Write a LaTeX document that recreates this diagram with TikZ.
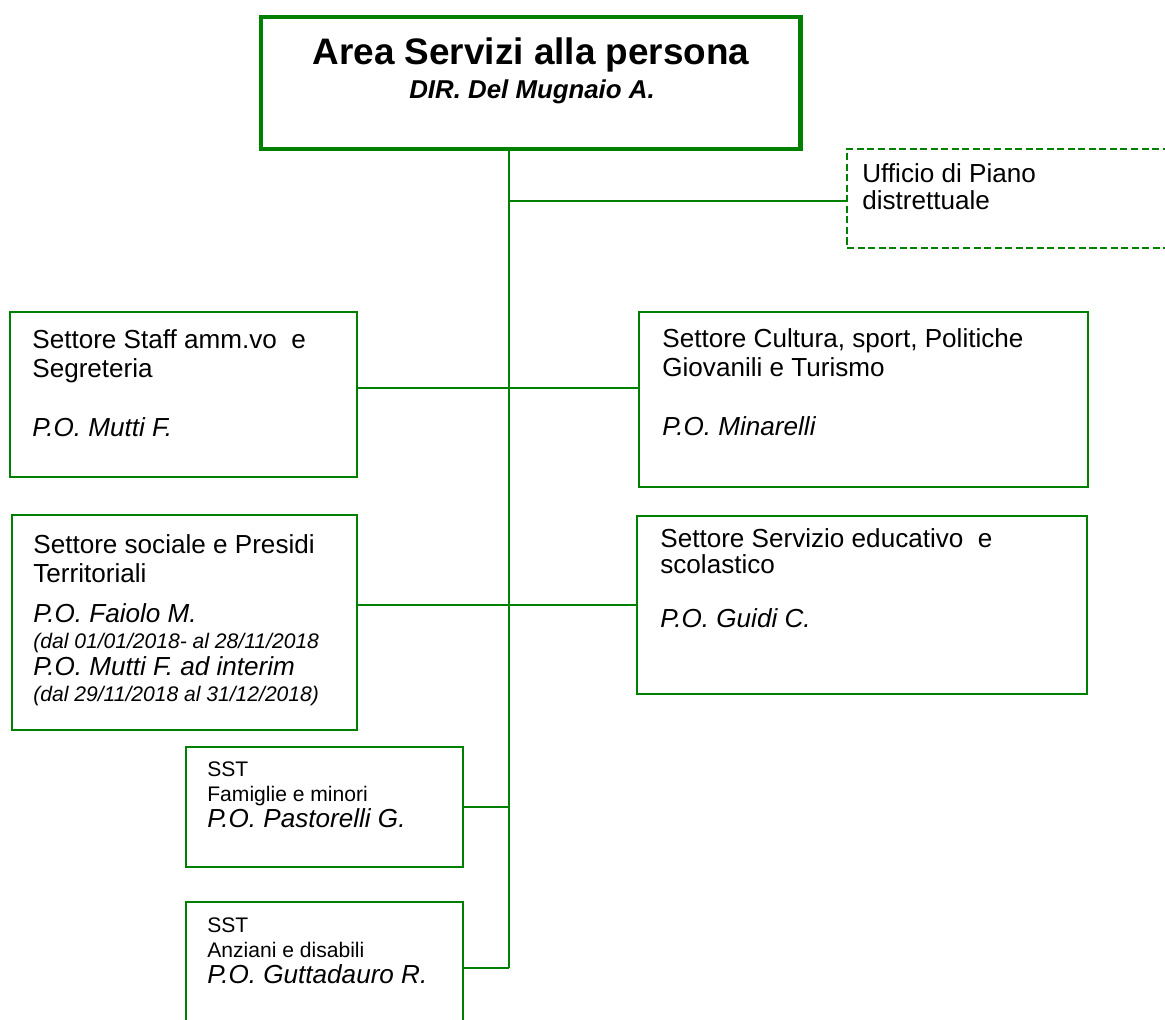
\documentclass[tikz,border=0pt]{standalone}
\usepackage{fontspec}
\setmainfont{Liberation Sans}
\definecolor{orggreen}{RGB}{0,128,0}
\tikzset{
	unit/.style={draw=orggreen,line width=1.1pt,inner sep=0pt,outer sep=0pt,anchor=north west},
	link/.style={draw=orggreen,line width=1.1pt},
	desc/.style={anchor=north west,align=left,inner sep=0pt,font=\fontsize{14.85}{16.7}\selectfont},
	small/.style={font=\fontsize{12}{14.5}\selectfont}
}
\begin{document}
\begin{tikzpicture}[x=0.02cm,y=-0.02cm]
	\useasboundingbox (0,0) rectangle (1165,1019);
	% boxes
	\node[unit,line width=2.8pt,minimum width=10.8cm,minimum height=2.64cm] (boss) at (261,17) {};
	\node[unit,dash pattern=on 4pt off 2pt,minimum width=6.56cm,minimum height=1.98cm] (piano) at (847,149) {};
	\node[unit,minimum width=6.94cm,minimum height=3.3cm] (staff) at (10,312) {};
	\node[unit,minimum width=8.98cm,minimum height=3.5cm] (cult) at (639,312) {};
	\node[unit,minimum width=6.9cm,minimum height=4.3cm] (soc) at (12,515) {};
	\node[unit,minimum width=9cm,minimum height=3.56cm] (educ) at (637,516) {};
	\node[unit,minimum width=5.54cm,minimum height=2.4cm] (sst1) at (186,747) {};
	\node[unit,minimum width=5.54cm,minimum height=2.4cm] (sst2) at (186,902) {};
	% texts
	\node[anchor=base,inner sep=0pt,font=\fontsize{21}{24}\selectfont\bfseries] (boss-t) at (531,64) {Area Servizi alla persona};
	\node[anchor=base,inner sep=0pt,font=\fontsize{14.7}{17}\selectfont\bfseries\itshape] (boss-d) at (532,98) {DIR. Del Mugnaio A.};
	\node[desc] (piano-t) at (862,163) {Ufficio di Piano\\[-1.4pt]distrettuale};
	\node[desc] (staff-t) at (32,329) {Settore Staff amm.vo\ \ e\\Segreteria\\[17pt]\textit{P.O. Mutti F.}};
	\node[desc] (cult-t) at (662,328) {Settore Cultura, sport, Politiche\\Giovanili e Turismo\\[17pt]\textit{P.O. Minarelli}};
	\node[desc] (soc-t) at (33,534) {Settore sociale e Presidi\\Territoriali\\[6pt]\textit{P.O. Faiolo M.}\\[-2pt]
		{\fontsize{12}{14.5}\selectfont\itshape (dal 01/01/2018- al 28/11/2018}\\[-1pt]\textit{P.O. Mutti F. ad interim}\\[-2pt]
		{\fontsize{12}{14.5}\selectfont\itshape (dal 29/11/2018 al 31/12/2018)}};
	\node[desc] (educ-t) at (660,528) {Settore Servizio educativo\ \ e\\[-2pt]scolastico\\[14.5pt]\textit{P.O. Guidi C.}};
	\node[desc,small] (sst1-t) at (207,761) {SST\\Famiglie e minori\\{\fontsize{14.85}{16.7}\selectfont\itshape P.O. Pastorelli G.}};
	\node[desc,small] (sst2-t) at (207,917) {SST\\Anziani e disabili\\{\fontsize{14.85}{16.7}\selectfont\itshape P.O. Guttadauro R.}};
	% connectors
	\coordinate (trunk) at (509,968);
	\draw[link] (boss.south -| trunk) -- (trunk);
	\draw[link] ([yshift=-0.05cm]piano.west) -- ([yshift=-0.05cm]piano.west -| trunk);
	\draw[link] ([yshift=0.13cm]staff.east) -- ([yshift=0.13cm]staff.east -| cult.west);
	\draw[link] (educ.west) -- (educ.west -| soc.east);
	\draw[link] (sst1.east) -- (sst1.east -| trunk);
	\draw[link] (trunk -| sst2.east) -- (trunk);
\end{tikzpicture}
\end{document}
